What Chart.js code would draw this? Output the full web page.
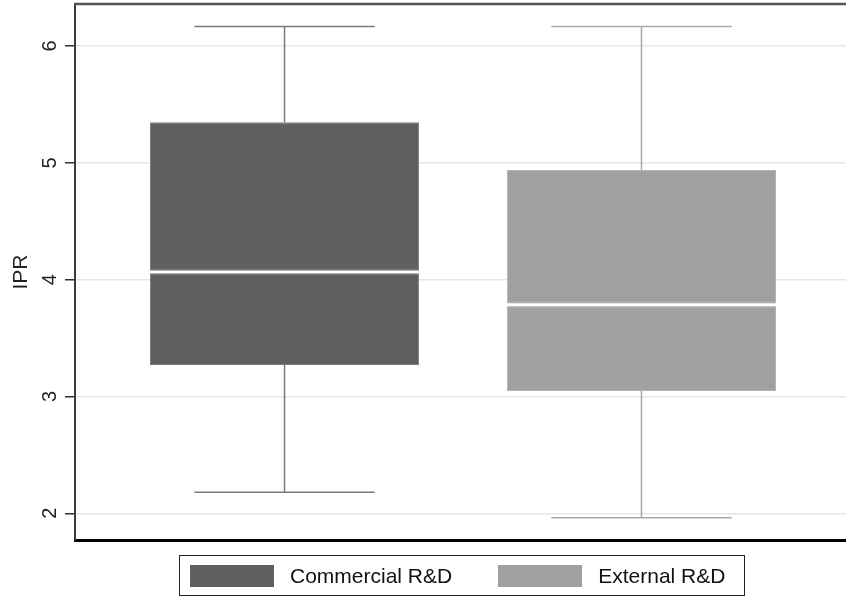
<!DOCTYPE html>
<html lang="en">
<head>
    <meta charset="UTF-8">
    <title>IPR by R&amp;D type</title>
    <script src="https://cdn.jsdelivr.net/npm/chart.js"></script>
    <style>
        body { margin: 0; background: #fff; }
        #wrap { position: relative; width: 846px; height: 597px; overflow: hidden; }
        #legend {
            position: absolute; left: 179px; top: 555px; width: 566px; height: 41px;
            box-sizing: border-box; border: 1.5px solid #222;
            display: flex; align-items: center; padding-left: 10px;
            font: 21px "Liberation Sans", Arial, sans-serif; color: #111;
            white-space: nowrap;
        }
        #legend .item { display: flex; align-items: center; margin-right: 46px; flex-shrink: 0; }
        #legend .swatch { width: 84px; height: 22px; margin-right: 16px; flex-shrink: 0; }
    </style>
</head>
<body>
    <div id="wrap">
        <canvas id="iprChart"></canvas>
        <div id="legend"></div>
    </div>
    <script>
        // box plot summaries, one entry per group
        const groups = ['Commercial R&D', 'External R&D'];
        const lowerWhisker = [2.18, 1.962];
        const q1 = [3.27, 3.047];
        const median = [4.066, 3.786];
        const q3 = [5.348, 4.938];
        const upperWhisker = [6.167, 6.167];
        const yTicks = [2, 3, 4, 5, 6];

        const fills = ['#606060', '#a0a0a0'];
        const outlines = ['#7c7c7c', '#b4b4b4'];
        const whiskerColors = ['#7a7a7a', '#a8a8a8'];

        // whiskers, caps and the median line, placed with the chart's own scales
        const boxExtras = {
            id: 'boxExtras',
            afterDatasetsDraw(chart) {
                const ctx = chart.ctx;
                const y = chart.scales.y;
                chart.data.datasets.forEach((ds, i) => {
                    const bar = chart.getDatasetMeta(i).data[0];
                    if (!bar) return;
                    const k = ds.group;
                    const cx = bar.x;
                    const capHalf = bar.width * 0.67 / 2;
                    const yHi = y.getPixelForValue(upperWhisker[k]);
                    const yLo = y.getPixelForValue(lowerWhisker[k]);
                    const yQ3 = y.getPixelForValue(q3[k]);
                    const yQ1 = y.getPixelForValue(q1[k]);
                    const yMed = y.getPixelForValue(median[k]);

                    ctx.save();
                    ctx.strokeStyle = whiskerColors[k];
                    ctx.lineWidth = 1.5;
                    ctx.beginPath();
                    ctx.moveTo(cx, yQ3); ctx.lineTo(cx, yHi);
                    ctx.moveTo(cx - capHalf, yHi); ctx.lineTo(cx + capHalf, yHi);
                    ctx.moveTo(cx, yQ1); ctx.lineTo(cx, yLo);
                    ctx.moveTo(cx - capHalf, yLo); ctx.lineTo(cx + capHalf, yLo);
                    ctx.stroke();

                    const left = cx - bar.width / 2;
                    ctx.strokeStyle = outlines[k];
                    ctx.lineWidth = 1;
                    ctx.beginPath();
                    ctx.moveTo(left, yMed - 2.5); ctx.lineTo(left + bar.width, yMed - 2.5);
                    ctx.moveTo(left, yMed + 2.5); ctx.lineTo(left + bar.width, yMed + 2.5);
                    ctx.stroke();
                    ctx.strokeStyle = '#ffffff';
                    ctx.lineWidth = 3;
                    ctx.beginPath();
                    ctx.moveTo(left, yMed); ctx.lineTo(left + bar.width, yMed);
                    ctx.stroke();
                    ctx.restore();
                });
            }
        };

        // rotated y tick labels and the top frame line
        const frame = {
            id: 'frame',
            afterDraw(chart) {
                const ctx = chart.ctx;
                const area = chart.chartArea;
                const y = chart.scales.y;
                ctx.save();
                ctx.strokeStyle = '#555';
                ctx.lineWidth = 2.5;
                ctx.beginPath();
                ctx.moveTo(area.left - 1, area.top);
                ctx.lineTo(area.right, area.top);
                ctx.stroke();

                ctx.fillStyle = '#222';
                ctx.font = '20px "Liberation Sans", Arial, sans-serif';
                ctx.textAlign = 'center';
                ctx.textBaseline = 'alphabetic';
                yTicks.forEach(v => {
                    ctx.save();
                    ctx.translate(56, y.getPixelForValue(v));
                    ctx.rotate(-Math.PI / 2);
                    ctx.fillText(String(v), 0, 0);
                    ctx.restore();
                });
                ctx.restore();
            }
        };

        const htmlLegend = {
            id: 'htmlLegend',
            afterUpdate(chart) {
                const box = document.getElementById('legend');
                box.innerHTML = '';
                chart.data.datasets.forEach(ds => {
                    const item = document.createElement('div');
                    item.className = 'item';
                    const sw = document.createElement('span');
                    sw.className = 'swatch';
                    sw.style.background = ds.backgroundColor;
                    const txt = document.createElement('span');
                    txt.textContent = ds.label;
                    item.appendChild(sw);
                    item.appendChild(txt);
                    box.appendChild(item);
                });
            }
        };

        const ctx = document.getElementById('iprChart').getContext('2d');
        new Chart(ctx, {
            type: 'bar',
            data: {
                datasets: groups.map((g, i) => ({
                    label: g,
                    group: i,
                    data: [{ x: i, y: [q1[i], q3[i]] }],
                    backgroundColor: fills[i],
                    borderColor: outlines[i],
                    borderWidth: 1,
                    borderSkipped: false,
                    grouped: false,
                    categoryPercentage: 1,
                    barPercentage: 0.754
                }))
            },
            options: {
                responsive: true,
                maintainAspectRatio: false,
                animation: false,
                layout: { padding: { top: 4, bottom: 57, left: 0, right: 0 } },
                plugins: {
                    legend: { display: false },
                    tooltip: { enabled: false }
                },
                scales: {
                    x: {
                        type: 'linear',
                        offset: false,
                        min: -0.587,
                        max: 1.573,
                        afterBuildTicks: s => { s.ticks = groups.map((g, i) => ({ value: i })); },
                        afterFit: s => { s.height = 0; },
                        ticks: { display: false },
                        grid: { display: false },
                        border: { display: true, color: '#000', width: 3 }
                    },
                    y: {
                        min: 1.771,
                        max: 6.36,
                        afterBuildTicks: s => { s.ticks = yTicks.map(v => ({ value: v })); },
                        afterFit: s => { s.width = 75; },
                        ticks: { display: false },
                        grid: {
                            color: '#e6e6e6',
                            lineWidth: 1.5,
                            drawTicks: true,
                            tickLength: 10,
                            tickColor: '#333',
                            tickWidth: 1.5
                        },
                        border: { display: true, color: '#3a3a3a', width: 2 },
                        title: {
                            display: true,
                            text: 'IPR',
                            color: '#222',
                            font: { family: '"Liberation Sans", Arial, sans-serif', size: 21 },
                            padding: { top: 9, bottom: 4 }
                        }
                    }
                }
            },
            plugins: [boxExtras, frame, htmlLegend]
        });
    </script>
</body>
</html>
